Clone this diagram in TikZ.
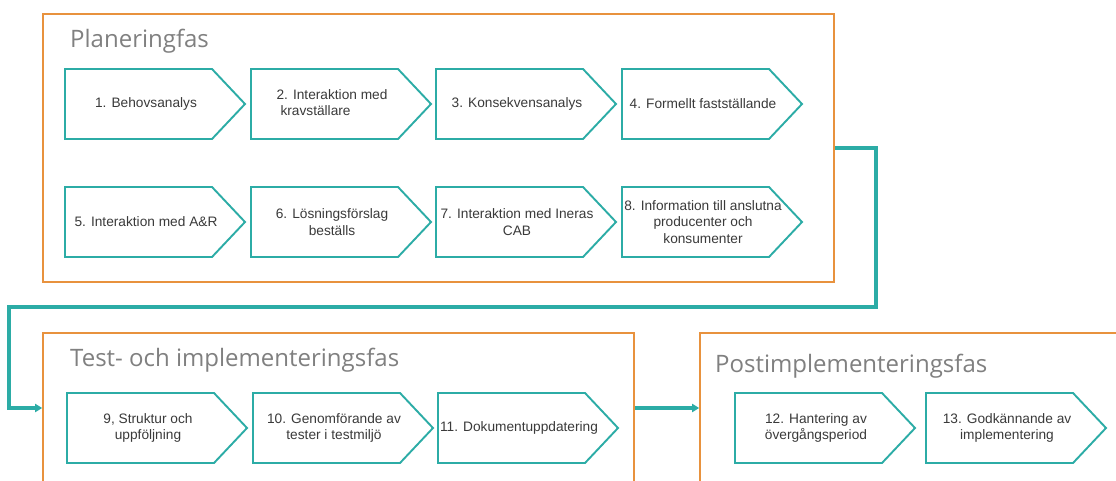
\documentclass[tikz,border=0pt]{standalone}
\usepackage{fontspec}
\setmainfont{Liberation Sans}
\newfontfamily\titlefont{Open Sans}
\usetikzlibrary{arrows.meta}
\definecolor{teal1}{RGB}{44,172,166}
\definecolor{orange1}{RGB}{232,146,62}
\definecolor{txt}{RGB}{58,58,58}
\definecolor{ttl}{RGB}{128,128,128}
\tikzset{
  phase/.style={draw=orange1, line width=1.6pt, fill=white, inner sep=0pt},
  chevline/.style={draw=teal1, line width=1.9pt, fill=white, line join=miter},
  ctext/.style={text=txt, font=\fontsize{13.7}{16.5}\selectfont, align=center, inner sep=0pt},
  ptitle/.style={text=ttl, font=\titlefont\fontsize{24}{28}\selectfont, anchor=base west, inner sep=0pt},
  conn/.style={draw=teal1, line width=3.2pt, line join=miter},
  tip/.style={-{Triangle[length=7pt,width=8pt]}}
}
\newcommand\chev[4]{%
  \draw[chevline] (#2,#3) -- ++(147,0) -- ++(33,35) -- ++(-33,35) -- ++(-147,0) -- cycle;
  \node[ctext] (#1) at (#2+81,#3+35) {#4};
}
\begin{document}
\begin{tikzpicture}[x=1pt,y=-1pt]
\useasboundingbox (0,0) rectangle (1116,481);
\clip (0,0) rectangle (1116,481);
\fill[white] (0,0) rectangle (1116,481);

% phase boxes
\node[phase, minimum width=791pt, minimum height=268pt] (p1) at (438.5,148) {};
\node[phase, minimum width=591pt, minimum height=150pt] (p2) at (338.5,408) {};
\node[phase, minimum width=440pt, minimum height=150pt] (p3) at (920,408) {};

\node[ptitle] (t1) at (70,48) {Planeringfas};
\node[ptitle] (t2) at (70,366) {Test- och implementeringsfas};
\node[ptitle] (t3) at (715,372) {Postimplementeringsfas};

% row 1
\chev{c1}{65}{69}{1. Behovsanalys}
\chev{c2}{251}{69}{\begin{tabular}{@{}l@{}}2. Interaktion med\\\hspace*{4pt}kravställare\end{tabular}}
\chev{c3}{436}{69}{3. Konsekvensanalys}
\chev{c4}{622}{69}{4. Formellt fastställande}
% row 2
\chev{c5}{65}{187}{5. Interaktion med A\&R}
\chev{c6}{251}{187}{6. Lösningsförslag\\beställs}
\chev{c7}{436}{187}{7. Interaktion med Ineras\\CAB}
\chev{c8}{622}{187}{8. Information till anslutna\\producenter och\\konsumenter}
% row 3
\chev{c9}{67}{393}{9, Struktur och\\uppföljning}
\chev{c10}{253}{393}{10. Genomförande av\\tester i testmiljö}
\chev{c11}{438}{393}{11. Dokumentuppdatering}
\chev{c12}{735}{393}{12. Hantering av\\övergångsperiod}
\chev{c13}{926}{393}{13. Godkännande av\\implementering}

% connectors
\coordinate (k1) at (876,307);
\coordinate (k2) at (9,307);
\draw[conn, tip] (p1.east) -| (k1) -- (k2) |- (p2.west);
\draw[conn, tip] (p2.east) -- (p3.west);
\end{tikzpicture}
\end{document}
